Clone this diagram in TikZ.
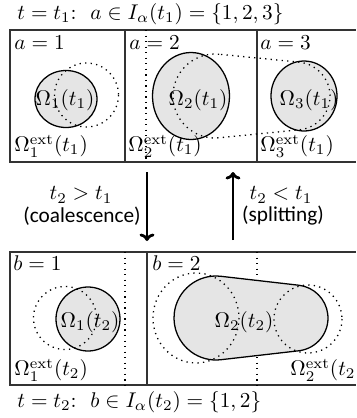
\documentclass[tikz,border=0pt]{standalone}
\usepackage{fontspec}
\newfontfamily\labelsans{Carlito}
\usetikzlibrary{arrows.meta,calc}
\begin{document}
\begin{tikzpicture}[x=0.47pt,y=-0.47pt,
  frame/.style={draw=black!80, line width=0.8pt},
  region/.style={draw=black, line width=0.6pt, fill=black!10},
  trace/.style={draw=black, line width=0.6pt, dotted},
  lbl/.style={inner sep=0pt, anchor=west},
  ctr/.style={inner sep=0pt},
  flow/.style={line width=1.3pt, -{To[length=3.5pt,width=7pt]}}]
\useasboundingbox (0,0) rectangle (356,418);
\clip (0,0) rectangle (356,418);

% ---------- top row (t = t1) ----------
\node[lbl] (toptitle) at (17,14) {$t=t_1$:\hspace{6.5pt}$a\in I_\alpha(t_1)=\{1,2,3\}$};
\draw[frame] (10,30) rectangle (364,162);
\draw[frame] (125,30) -- (125,162);
\draw[frame] (257,30) -- (257,162);
\draw[trace] (146,30) -- (146,162);

\draw[region] (66,99) ellipse [x radius=31, y radius=28.5];
\draw[region] (191,96) ellipse [x radius=38.5, y radius=43.5];
\draw[region] (304,96) ellipse [x radius=33, y radius=35];

\draw[trace] (86.5,95) circle [radius=32];
\coordinate (hl) at (215,96);
\coordinate (hr) at (296,96);
\draw[trace] ($(hl)+(-84.3:42)$) arc[start angle=-84.3, end angle=-275.7, radius=42]
  -- ($(hr)+(84.3:34)$) arc[start angle=84.3, end angle=-84.3, radius=34] -- cycle;

\node[lbl] (a1) at (14,43) {$a=1$};
\node[lbl] (a2) at (129,43) {$a=2$};
\node[lbl] (a3) at (260,43) {$a=3$};
\node[ctr] (om1) at (65,100) {$\Omega_1(t_1)$};
\node[ctr] (om2) at (198,100) {$\Omega_2(t_1)$};
\node[ctr] (om3) at (309,100) {$\Omega_3(t_1)$};
\node[lbl] (e1) at (14,146) {$\Omega_1^{\mathrm{ext}}(t_1)$};
\node[lbl] (e2) at (128,146) {$\Omega_2^{\mathrm{ext}}(t_1)$};
\node[lbl] (e3) at (260,146) {$\Omega_3^{\mathrm{ext}}(t_1)$};

% ---------- arrows ----------
\coordinate (dA) at (147,172);
\coordinate (dB) at (147,241);
\coordinate (uA) at (233,240);
\coordinate (uB) at (233,172);
\draw[flow] (dA) -- (dB);
\draw[flow] (uA) -- (uB);
\node[ctr] (c1) at (81,195) {$t_2>t_1$};
\node[ctr] (c2) at (82,216) {\labelsans (coalescence)};
\node[ctr] (s1) at (281,195) {$t_2<t_1$};
\node[ctr] (s2) at (283,216) {\labelsans (splitting)};

% ---------- bottom row (t = t2) ----------
\draw[frame] (10,252) rectangle (364,385);
\draw[frame] (147,252) -- (147,385);
\draw[trace] (125,252) -- (125,385);
\draw[trace] (257,252) -- (257,385);

\draw[region] (88,319) circle [radius=32];
\coordinate (gl) at (216,318);
\coordinate (gr) at (295,318);
\draw[region] ($(gl)+(-83.5:42)$) arc[start angle=-83.5, end angle=-276.5, radius=42]
  -- ($(gr)+(83.5:33)$) arc[start angle=83.5, end angle=-83.5, radius=33] -- cycle;

\draw[trace] (65,318) circle [radius=31.5];
\draw[trace] (196,318) ellipse [x radius=43, y radius=45];
\draw[trace] (308,319) circle [radius=34];

\node[lbl] (b1) at (13,263) {$b=1$};
\node[lbl] (b2) at (152,263) {$b=2$};
\node[ctr] (w1) at (90,322) {$\Omega_1(t_2)$};
\node[ctr] (w2) at (244,322) {$\Omega_2(t_2)$};
\node[lbl] (f1) at (14,370) {$\Omega_1^{\mathrm{ext}}(t_2)$};
\node[lbl] (f2) at (290,370) {$\Omega_2^{\mathrm{ext}}(t_2)$};
\node[lbl] (bottitle) at (17,402) {$t=t_2$:\hspace{6.5pt}$b\in I_\alpha(t_2)=\{1,2\}$};
\end{tikzpicture}
\end{document}
